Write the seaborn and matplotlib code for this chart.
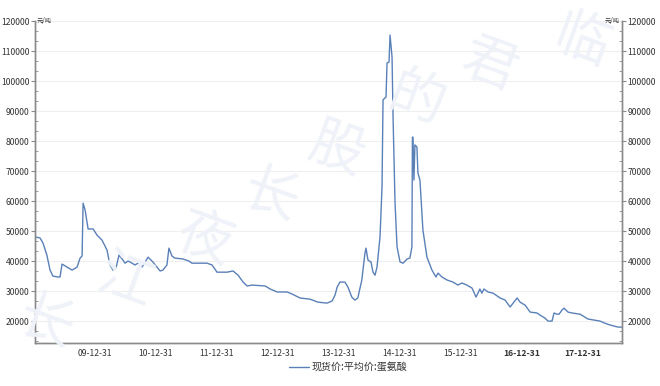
import matplotlib
matplotlib.use("Agg")
import matplotlib.pyplot as plt
import matplotlib.dates as mdates
from matplotlib.ticker import MultipleLocator, FixedLocator
import numpy as np
import pandas as pd
import seaborn as sns

# spot price, average, methionine (yuan / ton)
dates = [
    "2009-01-12", "2009-02-05", "2009-02-23", "2009-03-18", "2009-04-06", "2009-04-23",
    "2009-05-24", "2009-06-05", "2009-06-17", "2009-07-17", "2009-08-16", "2009-09-15",
    "2009-10-03", "2009-10-15", "2009-10-21", "2009-11-02", "2009-11-20", "2009-12-20",
    "2010-01-12", "2010-02-11", "2010-03-13", "2010-03-31", "2010-04-18", "2010-05-06",
    "2010-05-24", "2010-06-17", "2010-06-29", "2010-07-17", "2010-07-29", "2010-08-28",
    "2010-09-15", "2010-10-09", "2010-11-14", "2010-12-13", "2011-01-25", "2011-02-11",
    "2011-03-07", "2011-03-19", "2011-04-06", "2011-04-23", "2011-06-11", "2011-07-17",
    "2011-08-04", "2011-09-03", "2011-11-02", "2011-12-02", "2012-01-01", "2012-03-01",
    "2012-04-06", "2012-05-06", "2012-06-05", "2012-06-29", "2012-07-29", "2012-10-15",
    "2012-11-14", "2012-12-26", "2013-02-24", "2013-03-26", "2013-05-12", "2013-07-11",
    "2013-08-28", "2013-10-21", "2013-11-20", "2013-12-08", "2013-12-20", "2014-01-06",
    "2014-02-05", "2014-02-23", "2014-03-18", "2014-04-06", "2014-04-23", "2014-05-17",
    "2014-06-05", "2014-06-11", "2014-06-23", "2014-07-11", "2014-07-23", "2014-08-04",
    "2014-08-16", "2014-09-03", "2014-09-15", "2014-09-21", "2014-10-09", "2014-10-15",
    "2014-10-27", "2014-11-02", "2014-11-14", "2014-11-20", "2014-12-02", "2014-12-14",
    "2015-01-01", "2015-01-19", "2015-02-12", "2015-03-01", "2015-03-13", "2015-03-16",
    "2015-03-19", "2015-03-25", "2015-03-31", "2015-04-12", "2015-04-18", "2015-04-30",
    "2015-05-18", "2015-06-11", "2015-07-11", "2015-08-04", "2015-08-16", "2015-09-09",
    "2015-10-09", "2015-11-14", "2015-12-14", "2016-01-06", "2016-02-05", "2016-03-07",
    "2016-03-31", "2016-04-23", "2016-05-05", "2016-05-17", "2016-06-11", "2016-07-11",
    "2016-08-22", "2016-09-21", "2016-10-21", "2016-11-08", "2016-12-02", "2016-12-20",
    "2017-01-19", "2017-02-18", "2017-03-31", "2017-04-18", "2017-05-18", "2017-06-05",
    "2017-06-29", "2017-07-11", "2017-07-29", "2017-08-10", "2017-08-28", "2017-09-09",
    "2017-10-03", "2017-10-27", "2017-12-14", "2018-01-12", "2018-01-30", "2018-04-12",
    "2018-05-12", "2018-06-11", "2018-07-29", "2018-08-22",
]
prices = [
    48000, 47700, 46000, 42000, 37000, 35000,
    34700, 34700, 39000, 38000, 37000, 38000,
    41000, 41700, 59300, 57000, 50700, 50700,
    48700, 47000, 43700, 38700, 37000, 37700,
    42000, 40300, 39300, 40000, 39700, 38700,
    39300, 38000, 41300, 39700, 36700, 37000,
    38700, 44300, 41700, 41000, 40700, 40000,
    39300, 39300, 39300, 38700, 36300, 36300,
    36700, 35300, 33000, 31700, 32000, 31700,
    30700, 29700, 29700, 29000, 27700, 27300,
    26300, 26000, 26700, 28700, 31300, 33000,
    33000, 31300, 28000, 27000, 27700, 33700,
    42700, 44300, 40300, 39700, 36300, 35300,
    38000, 48000, 64700, 93700, 94700, 106000,
    106300, 115300, 108000, 88000, 59300, 44700,
    39700, 39300, 40700, 41000, 44700, 81300,
    81300, 67000, 78700, 78000, 69300, 67000,
    50300, 41300, 37000, 34700, 36000, 34700,
    33700, 33000, 32000, 32700, 32000, 31000,
    28000, 30700, 29300, 30700, 29700, 29300,
    27700, 27000, 24700, 26000, 27700, 26300,
    25300, 23000, 22700, 22000, 21000, 20000,
    20000, 22700, 22300, 22300, 23700, 24300,
    23000, 22700, 22300, 21300, 20700, 20000,
    19300, 18700, 18000, 18000,
]
seriesName = "现货价:平均价:蛋氨酸"
unitLabel = "元/吨"
watermark = ["长", "江", "夜", "长", "股", "的", "君", "临"]

sns.set_style("white")
plt.rcParams["font.family"] = ["Noto Sans CJK SC", "DejaVu Sans"]

df = pd.DataFrame({"date": pd.to_datetime(dates), "price": prices})

fig = plt.figure(figsize=(6.6, 3.86), dpi=100)
ax = fig.add_axes([35 / 660, 1 - 343 / 386, (622 - 35) / 660, (343 - 21) / 386])

# faint watermark behind everything
wmPos = [(0.07, 0.16), (0.19, 0.27), (0.31, 0.38), (0.41, 0.49),
         (0.51, 0.61), (0.63, 0.74), (0.74, 0.83), (0.88, 0.89)]
for ch, (wx, wy) in zip(watermark, wmPos):
    fig.text(wx, wy, ch, fontsize=40, color="#eff2f8", rotation=-20,
             ha="center", va="center", zorder=0)
ax.patch.set_alpha(0)

sns.lineplot(data=df, x="date", y="price", ax=ax, color="#5a80b8", linewidth=1.0,
             label=seriesName, legend=False)

ymin, ymax = 12700, 120000
ax.set_ylim(ymin, ymax)
ax.set_xlim(pd.Timestamp("2009-01-06"), pd.Timestamp("2018-08-22"))
ax.set_xlabel("")
ax.set_ylabel("")

majorX = pd.date_range("2009-12-31", "2017-12-31", freq="YE")
minorX = pd.date_range("2009-01-01", "2018-08-22", freq="QE")
ax.xaxis.set_major_locator(FixedLocator(mdates.date2num(majorX)))
ax.xaxis.set_minor_locator(FixedLocator(mdates.date2num(minorX)))
ax.xaxis.set_major_formatter(mdates.DateFormatter("%y-%m-%d"))
ax.yaxis.set_major_locator(MultipleLocator(10000))
ax.yaxis.set_minor_locator(MultipleLocator(10000 / 3))
ax.grid(axis="y", which="major", color="#efefef", linewidth=0.8)

axisColor = "#8a8a8a"
ax2 = ax.twinx()
ax2.set_ylim(ymin, ymax)
ax2.yaxis.set_major_locator(MultipleLocator(10000))
ax2.yaxis.set_minor_locator(MultipleLocator(10000 / 3))
ax2.set_ylabel("")

for a in (ax, ax2):
    a.spines["top"].set_visible(False)
    for s in ("left", "right", "bottom"):
        a.spines[s].set_color(axisColor)
        a.spines[s].set_linewidth(1.0)
    a.tick_params(which="major", length=3, width=0.8, color=axisColor,
                  labelsize=6.2, labelcolor="#333333", pad=1)
    a.tick_params(which="minor", length=2, width=0.6, color=axisColor, direction="in")
ax.tick_params(axis="x", which="major", direction="inout", length=4, pad=2)
ax.tick_params(axis="y", which="both", left=True)
ax2.tick_params(axis="y", which="both", right=True)

for lbl in ax.get_xticklabels():
    if lbl.get_text() in ("16-12-31", "17-12-31"):
        lbl.set_fontweight("bold")

fig.text(37 / 660, 1 - 21 / 386, unitLabel, fontsize=4.5, color="#333333",
         ha="left", va="center")
fig.text(620 / 660, 1 - 21 / 386, unitLabel, fontsize=4.5, color="#333333",
         ha="right", va="center")

handles, labels = ax.get_legend_handles_labels()
fig.legend(handles, labels, loc="center", bbox_to_anchor=(348 / 660, 1 - 367 / 386),
           frameon=False, fontsize=7.2, handlelength=2.0, handletextpad=0.3,
           labelcolor="#333333")

fig.savefig("out.png", dpi=100, facecolor="white")
